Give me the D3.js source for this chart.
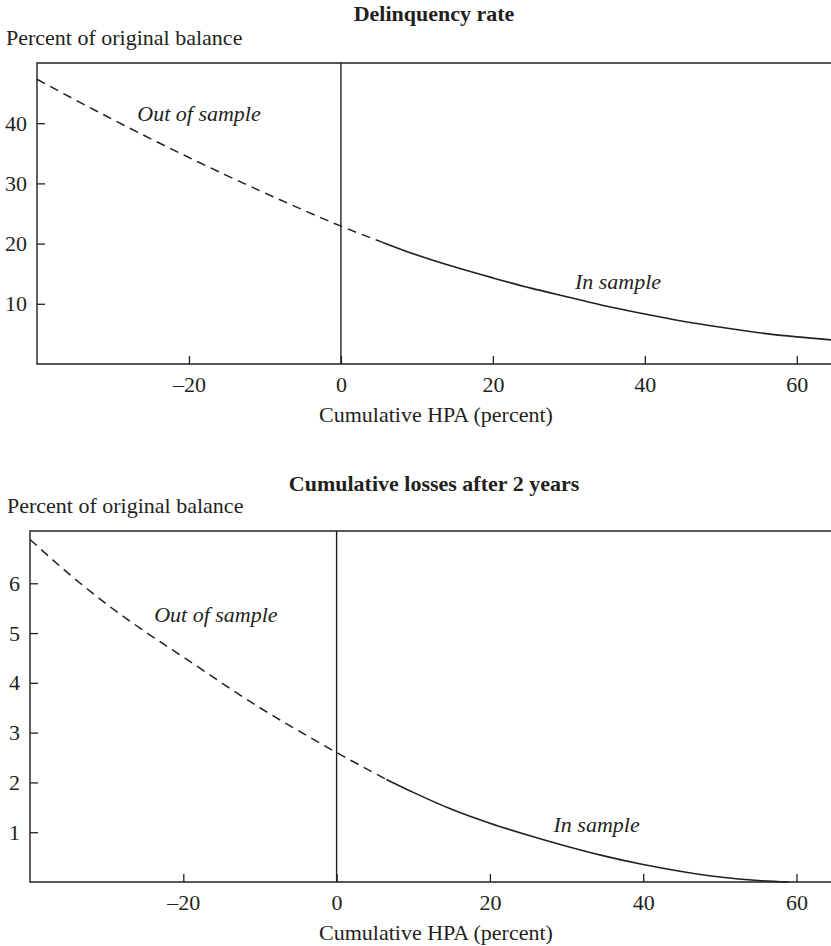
<!DOCTYPE html>
<html>
<head>
<meta charset="utf-8">
<script src="https://cdn.jsdelivr.net/npm/d3@7"></script>
<style>
  body { margin: 0; background: #fff; }
  svg text { font-family: "Liberation Serif", "Times New Roman", serif; fill: #231f20; }
</style>
</head>
<body>
<div id="chart"></div>
<script>
// cumulative HPA (percent) and model estimate
var delinqHpa = [-40, -35, -30, -25, -20, -15, -10, -5, 0, 5.5, 10, 15, 20, 25, 30, 35, 40, 45, 50, 55, 60, 64.5];
var delinqRate = [47.3, 43.9, 40.6, 37.4, 34.3, 31.3, 28.4, 25.6, 22.9, 20.2, 18.1, 16.1, 14.3, 12.6, 11.1, 9.6, 8.3, 7.1, 6.1, 5.2, 4.5, 4.0];
var delinqSampleStart = 5.5;

var lossHpa = [-40, -35, -30, -25, -20, -15, -10, -5, 0, 6.5, 10, 15, 20, 25, 30, 35, 40, 45, 50, 55, 59];
var lossRate = [6.88, 6.20, 5.58, 5.03, 4.52, 4.00, 3.50, 3.04, 2.60, 2.06, 1.80, 1.46, 1.18, 0.94, 0.72, 0.52, 0.35, 0.21, 0.10, 0.03, 0.0];
var lossSampleStart = 6.5;

var xTicks = [-20, 0, 20, 40, 60];
var delinqTicks = [10, 20, 30, 40];
var lossTicks = [1, 2, 3, 4, 5, 6];

var W = 831, H = 946;

var svg = d3.select('#chart')
    .append('svg')
    .attr('width', W)
    .attr('height', H);

function drawPanel(cfg) {
    var x = d3.scaleLinear()
        .domain([-40, 64.5])
        .range([cfg.left, W]);

    var y = d3.scaleLinear()
        .domain(cfg.yDomain)
        .range([cfg.bottom, cfg.top]);

    var g = svg.append('g');

    // title
    g.append('text')
        .attr('x', cfg.cx)
        .attr('y', cfg.titleY)
        .attr('text-anchor', 'middle')
        .style('font-size', '22px')
        .style('font-weight', 'bold')
        .text(cfg.title);

    // y label
    g.append('text')
        .attr('x', cfg.yLabelX)
        .attr('y', cfg.yLabelY)
        .style('font-size', '22px')
        .text('Percent of original balance');

    // frame
    g.append('path')
        .attr('d', 'M' + W + ',' + cfg.top + 'H' + cfg.left + 'V' + cfg.bottom + 'H' + W)
        .attr('fill', 'none')
        .attr('stroke', '#231f20')
        .attr('stroke-width', 1.4);

    // axes, ticks pointing in
    var xAxis = g.append('g')
        .attr('transform', 'translate(0,' + cfg.bottom + ')')
        .call(d3.axisBottom(x)
            .tickValues(xTicks)
            .tickSize(-8)
            .tickPadding(12)
            .tickFormat(function (d) { return d < 0 ? '\u2013' + Math.abs(d) : d; }));
    xAxis.select('.domain').remove();

    var yAxis = g.append('g')
        .attr('transform', 'translate(' + cfg.left + ',0)')
        .call(d3.axisLeft(y)
            .tickValues(cfg.yTicks)
            .tickSize(-8)
            .tickPadding(10)
            .tickFormat(d3.format('d')));
    yAxis.select('.domain').remove();

    g.selectAll('.tick line').attr('stroke', '#231f20').attr('stroke-width', 1.3);
    g.selectAll('.tick text')
        .style('font-size', '22px')
        .style('font-family', '"Liberation Serif", "Times New Roman", serif')
        .attr('fill', '#231f20');

    // x label
    g.append('text')
        .attr('x', cfg.xLabelX)
        .attr('y', cfg.bottom + 58)
        .attr('text-anchor', 'middle')
        .style('font-size', '22px')
        .text('Cumulative HPA (percent)');

    // zero line
    g.append('line')
        .attr('x1', x(0))
        .attr('x2', x(0))
        .attr('y1', cfg.top)
        .attr('y2', cfg.bottom)
        .attr('stroke', '#231f20')
        .attr('stroke-width', 1.4);

    var pts = cfg.hpa.map(function (d, i) { return [d, cfg.vals[i]]; });
    var line = d3.line()
        .curve(d3.curveMonotoneX)
        .x(function (d) { return x(d[0]); })
        .y(function (d) { return y(d[1]); });

    // out of sample (dashed)
    g.append('path')
        .datum(pts.filter(function (d) { return d[0] <= cfg.split; }))
        .attr('d', line)
        .attr('fill', 'none')
        .attr('stroke', '#231f20')
        .attr('stroke-width', 1.5)
        .attr('stroke-dasharray', '9,6');

    // in sample (solid)
    g.append('path')
        .datum(pts.filter(function (d) { return d[0] >= cfg.split; }))
        .attr('d', line)
        .attr('fill', 'none')
        .attr('stroke', '#231f20')
        .attr('stroke-width', 1.6);

    g.append('text')
        .attr('x', x(cfg.outLabel[0]))
        .attr('y', y(cfg.outLabel[1]))
        .style('font-size', '22px')
        .style('font-style', 'italic')
        .text('Out of sample');

    g.append('text')
        .attr('x', x(cfg.inLabel[0]))
        .attr('y', y(cfg.inLabel[1]))
        .style('font-size', '22px')
        .style('font-style', 'italic')
        .text('In sample');
}

drawPanel({
    title: 'Delinquency rate',
    hpa: delinqHpa, vals: delinqRate, split: delinqSampleStart,
    yDomain: [0, 50], yTicks: delinqTicks,
    left: 37, top: 63, bottom: 364,
    cx: 434, titleY: 21, yLabelX: 6, yLabelY: 45, xLabelX: 436,
    outLabel: [-26.8, 40.3], inLabel: [30.8, 12.5]
});

drawPanel({
    title: 'Cumulative losses after 2 years',
    hpa: lossHpa, vals: lossRate, split: lossSampleStart,
    yDomain: [0, 7.05], yTicks: lossTicks,
    left: 30, top: 531, bottom: 882,
    cx: 434, titleY: 491, yLabelX: 7, yLabelY: 513, xLabelX: 436,
    outLabel: [-23.8, 5.22], inLabel: [28.3, 1.0]
});
</script>
</body>
</html>
